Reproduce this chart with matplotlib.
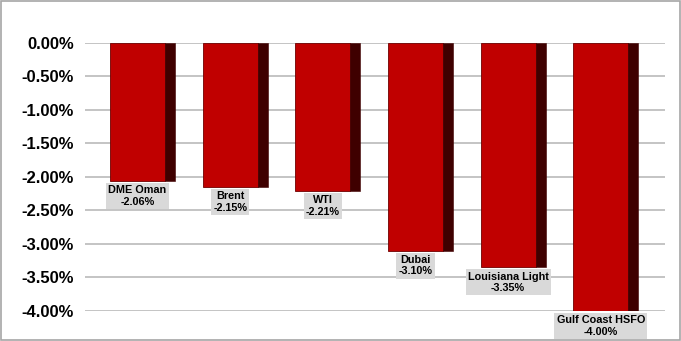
import numpy as np
import matplotlib.pyplot as plt

plt.rcParams['font.family'] = ['Liberation Sans', 'DejaVu Sans']

# crude benchmarks, change in %
names = ['DME Oman', 'Brent', 'WTI', 'Dubai', 'Louisiana Light', 'Gulf Coast HSFO']
changes = [-2.06, -2.15, -2.21, -3.10, -3.35, -4.00]
yticks = [0.0, -0.5, -1.0, -1.5, -2.0, -2.5, -3.0, -3.5, -4.0]

fig = plt.figure(figsize=(6.81, 3.41), dpi=100)
ax = fig.add_axes([0.1248, 0.088, 0.8517, 0.7859])

x = np.arange(len(names))
face_w = 0.594
side_w = 0.108

for yv in yticks:
    ax.axhline(yv, color='#bfbfbf', lw=1.3, zorder=0)

# front face and dark side give the 3D look
ax.bar(x, changes, width=face_w, color='#c00000', edgecolor='#6e0000', lw=0.6, zorder=2)
ax.bar(x + face_w / 2 + side_w / 2, changes, width=side_w, color='#3f0000',
       edgecolor='#3f0000', lw=0.4, zorder=2)

for xi, v, n in zip(x, changes, names):
    ax.annotate(f'{n}\n{v:.2f}%', (xi, v), xytext=(0, -3), textcoords='offset points',
                ha='center', va='top', fontsize=7.8, fontweight='bold', linespacing=1.2,
                bbox=dict(boxstyle='square,pad=0.2', fc='#d9d9d9', ec='none'),
                annotation_clip=False, zorder=3)

ax.set_xlim(-0.567, 5.693)
ax.set_ylim(-4.0, 0.0)
ax.set_yticks(yticks)
ax.set_yticklabels([f'{t:.2f}%' for t in yticks], fontsize=12, fontweight='bold')
ax.set_xticks([])
ax.tick_params(axis='y', length=0, pad=8)
for s in ax.spines.values():
    s.set_visible(False)

fig.patches.append(plt.Rectangle((0.001, 0.002), 0.997, 0.995, transform=fig.transFigure,
                                 fill=False, ec='#a6a6a6', lw=1.2))

fig.savefig('out.png', dpi=100)
